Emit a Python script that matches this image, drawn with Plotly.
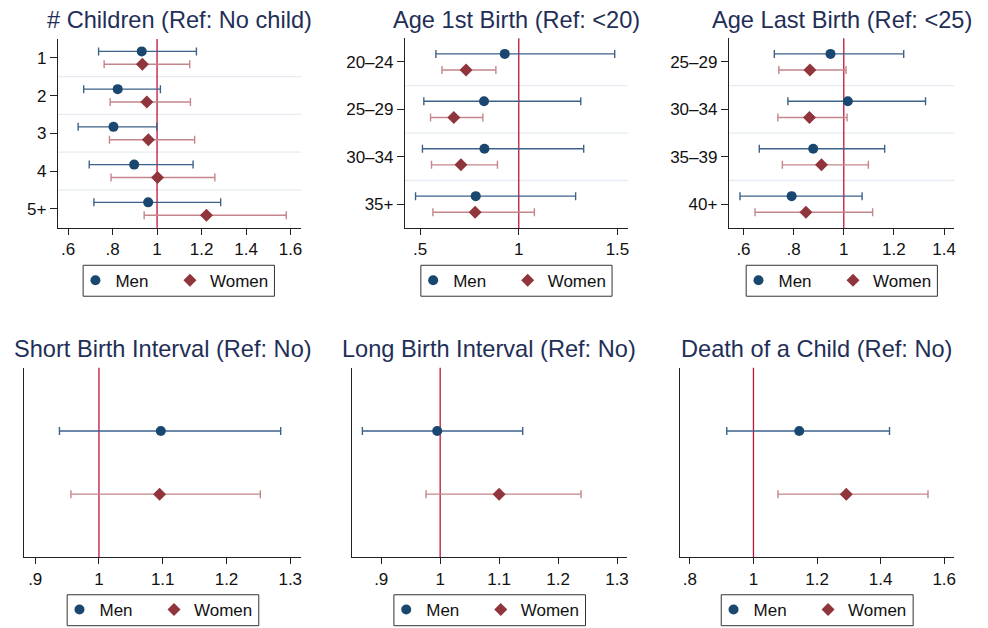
import plotly.graph_objects as go

# ---------------- data ----------------
children_cats = ["1", "2", "3", "4", "5+"]
children_men_or = [0.931, 0.823, 0.804, 0.897, 0.960]
children_men_lo = [0.737, 0.670, 0.645, 0.695, 0.716]
children_men_hi = [1.177, 1.015, 0.999, 1.162, 1.286]
children_women_or = [0.934, 0.954, 0.961, 1.002, 1.222]
children_women_lo = [0.762, 0.789, 0.786, 0.793, 0.942]
children_women_hi = [1.147, 1.150, 1.169, 1.260, 1.581]

first_cats = ["20\u201324", "25\u201329", "30\u201334", "35+"]
first_men_or = [0.929, 0.824, 0.826, 0.782]
first_men_lo = [0.580, 0.519, 0.512, 0.477]
first_men_hi = [1.486, 1.314, 1.329, 1.288]
first_women_or = [0.733, 0.671, 0.707, 0.779]
first_women_lo = [0.611, 0.553, 0.558, 0.565]
first_women_hi = [0.884, 0.818, 0.892, 1.079]

last_cats = ["25\u201329", "30\u201334", "35\u201339", "40+"]
last_men_or = [0.947, 1.016, 0.878, 0.792]
last_men_lo = [0.723, 0.777, 0.663, 0.586]
last_men_hi = [1.239, 1.326, 1.163, 1.073]
last_women_or = [0.865, 0.863, 0.911, 0.849]
last_women_lo = [0.741, 0.737, 0.755, 0.646]
last_women_hi = [1.009, 1.013, 1.098, 1.115]

short_men = [1.097, 0.938, 1.285]     # OR, lo, hi
short_women = [1.095, 0.956, 1.253]
long_men = [0.995, 0.868, 1.140]
long_women = [1.100, 0.976, 1.239]
death_men = [1.144, 0.916, 1.428]
death_women = [1.292, 1.077, 1.549]

titles = ["# Children (Ref: No child)", "Age 1st Birth (Ref: <20)", "Age Last Birth (Ref: <25)",
          "Short Birth Interval (Ref: No)", "Long Birth Interval (Ref: No)", "Death of a Child (Ref: No)"]
series_names = ["Men", "Women"]

ticks1_vals = [0.6, 0.8, 1, 1.2, 1.4, 1.6]
ticks1_text = [".6", ".8", "1", "1.2", "1.4", "1.6"]
ticks2_vals = [0.5, 1, 1.5]
ticks2_text = [".5", "1", "1.5"]
ticks3_vals = [0.6, 0.8, 1, 1.2, 1.4]
ticks3_text = [".6", ".8", "1", "1.2", "1.4"]
ticks45_vals = [0.9, 1, 1.1, 1.2, 1.3]
ticks45_text = [".9", "1", "1.1", "1.2", "1.3"]
ticks6_vals = [0.8, 1, 1.2, 1.4, 1.6]
ticks6_text = [".8", "1", "1.2", "1.4", "1.6"]

# ---------------- style ----------------
W, H = 988, 628
FONT = "Liberation Sans, Arial, Helvetica, sans-serif"
MEN_C = "#1a476f"
WOMEN_C = "#90353b"
MEN_CI = "#3c6289"
WOMEN_CI = "#c4868c"
REF_C = "#c0143c"
GRID_C = "#e6ecf1"
TITLE_C = "#1f2f57"
AXIS_C = "#222222"
OFF = 0.17

def fx(p):
    return p / W

def fy(p):
    return 1 - p / H

panels = [
    dict(xd=(58, 302), yd=(39, 228), xr=(0.554, 1.649), yr=(5.5, 0.5), tv=ticks1_vals, tt=ticks1_text),
    dict(xd=(405.7, 629), yd=(38.3, 228.3), xr=(0.423, 1.552), yr=(4.5, 0.5), tv=ticks2_vals, tt=ticks2_text),
    dict(xd=(730.3, 956.3), yd=(38.3, 228.3), xr=(0.5415, 1.441), yr=(4.5, 0.5), tv=ticks3_vals, tt=ticks3_text),
    dict(xd=(24.3, 301.7), yd=(368.3, 558.3), xr=(0.8828, 1.317), yr=(3, 0), tv=ticks45_vals, tt=ticks45_text),
    dict(xd=(352.3, 628.3), yd=(368.3, 558.3), xr=(0.8497, 1.317), yr=(3, 0), tv=ticks45_vals, tt=ticks45_text),
    dict(xd=(681, 956.3), yd=(368.3, 558.3), xr=(0.7677, 1.632), yr=(3, 0), tv=ticks6_vals, tt=ticks6_text),
]

multi = [
    (children_cats, children_men_or, children_men_lo, children_men_hi,
     children_women_or, children_women_lo, children_women_hi),
    (first_cats, first_men_or, first_men_lo, first_men_hi,
     first_women_or, first_women_lo, first_women_hi),
    (last_cats, last_men_or, last_men_lo, last_men_hi,
     last_women_or, last_women_lo, last_women_hi),
]
single = [(short_men, short_women), (long_men, long_women), (death_men, death_women)]

fig = go.Figure()
shapes = []
annotations = []
layout = dict()

def leg_name(n):
    return "legend" if n == 1 else "legend%d" % n

def add_pair(k, men_y, men_or, men_lo, men_hi, wom_y, wom_or, wom_lo, wom_hi):
    sfx = "" if k == 1 else str(k)
    fig.add_trace(go.Scatter(
        x=men_or, y=men_y, mode="markers", name=series_names[0],
        xaxis="x" + sfx, yaxis="y" + sfx, legend=leg_name(2 * k - 1),
        marker=dict(symbol="circle", size=10, color=MEN_C),
        error_x=dict(type="data", symmetric=False,
                     array=[h - o for h, o in zip(men_hi, men_or)],
                     arrayminus=[o - l for o, l in zip(men_or, men_lo)],
                     color=MEN_CI, thickness=1.4, width=4),
    ))
    fig.add_trace(go.Scatter(
        x=wom_or, y=wom_y, mode="markers", name=series_names[1],
        xaxis="x" + sfx, yaxis="y" + sfx, legend=leg_name(2 * k),
        marker=dict(symbol="diamond", size=10, color=WOMEN_C),
        error_x=dict(type="data", symmetric=False,
                     array=[h - o for h, o in zip(wom_hi, wom_or)],
                     arrayminus=[o - l for o, l in zip(wom_or, wom_lo)],
                     color=WOMEN_CI, thickness=1.4, width=4),
    ))

for i, (cats, mo, ml, mh, wo, wl, wh) in enumerate(multi):
    k = i + 1
    pos = list(range(1, len(cats) + 1))
    add_pair(k, [p - OFF for p in pos], mo, ml, mh, [p + OFF for p in pos], wo, wl, wh)
    sfx = "" if k == 1 else str(k)
    for p in pos[:-1]:
        shapes.append(dict(type="line", xref="x%s domain" % sfx, yref="y" + sfx,
                           x0=0, x1=1, y0=p + 0.5, y1=p + 0.5,
                           line=dict(color=GRID_C, width=1.3), layer="below"))

for i, (m, w) in enumerate(single):
    k = i + 4
    add_pair(k, [1], [m[0]], [m[1]], [m[2]], [2], [w[0]], [w[1]], [w[2]])

for i, pnl in enumerate(panels):
    k = i + 1
    sfx = "" if k == 1 else str(k)
    xa = dict(domain=[fx(pnl["xd"][0]), fx(pnl["xd"][1])], range=list(pnl["xr"]),
              anchor="y" + sfx, showgrid=False, zeroline=False,
              showline=True, linecolor=AXIS_C, linewidth=1,
              ticks="outside", ticklen=6, tickcolor=AXIS_C, tickwidth=1,
              tickvals=pnl["tv"], ticktext=pnl["tt"],
              tickfont=dict(family=FONT, size=17, color="#111111"), fixedrange=True)
    if k <= 3:
        cats = multi[i][0]
        ya = dict(tickvals=list(range(1, len(cats) + 1)), ticktext=cats,
                  ticks="outside", ticklen=7, tickcolor=AXIS_C, tickwidth=1,
                  showticklabels=True)
    else:
        ya = dict(showticklabels=False, ticks="")
    ya.update(domain=[fy(pnl["yd"][1]), fy(pnl["yd"][0])], range=list(pnl["yr"]),
              anchor="x" + sfx, showgrid=False, zeroline=False,
              showline=True, linecolor=AXIS_C, linewidth=1,
              tickfont=dict(family=FONT, size=17, color="#111111"), fixedrange=True)
    layout["xaxis" + sfx] = xa
    layout["yaxis" + sfx] = ya

    shapes.append(dict(type="line", xref="x" + sfx, yref="y%s domain" % sfx,
                       x0=1, x1=1, y0=0, y1=1, line=dict(color=REF_C, width=1.3), layer="below"))

    cx = (pnl["xd"][0] + pnl["xd"][1]) / 2
    ty = 20 if k <= 3 else 350
    annotations.append(dict(text=titles[i], xref="paper", yref="paper",
                            x=fx(cx), y=fy(ty), xanchor="center", yanchor="middle",
                            showarrow=False, font=dict(family=FONT, size=23.6, color=TITLE_C)))

# legend boxes (pixel positions); one plotly legend per entry
leg_boxes = [(83.3, 275), (421.7, 613.3), (747.7, 939.3), (67.3, 259.3), (394.7, 586.7), (722.7, 915)]
for i, (x0, x1) in enumerate(leg_boxes):
    k = i + 1
    top = 265.7 if k <= 3 else 595.7
    bot = top + 31
    shapes.append(dict(type="rect", xref="paper", yref="paper",
                       x0=fx(x0), x1=fx(x1), y0=fy(bot), y1=fy(top),
                       line=dict(color="#333333", width=1), fillcolor="rgba(0,0,0,0)"))
    for j, dx in enumerate((11.3, 106.0)):
        layout[leg_name(2 * k - 1 + j)] = dict(
            orientation="h", x=fx(x0 + dx - 19), xanchor="left",
            y=fy((top + bot) / 2), yanchor="middle",
            bgcolor="rgba(0,0,0,0)", borderwidth=0,
            font=dict(family=FONT, size=17, color="#111111"),
            itemclick=False, itemdoubleclick=False)

fig.update_layout(
    width=W, height=H, margin=dict(l=0, r=0, t=0, b=0),
    paper_bgcolor="white", plot_bgcolor="white",
    shapes=shapes, annotations=annotations, showlegend=True,
    **layout
)

fig.write_html("out.html", config=dict(displayModeBar=False),
               post_script="document.body.style.margin='0';document.body.style.overflow='hidden';")
